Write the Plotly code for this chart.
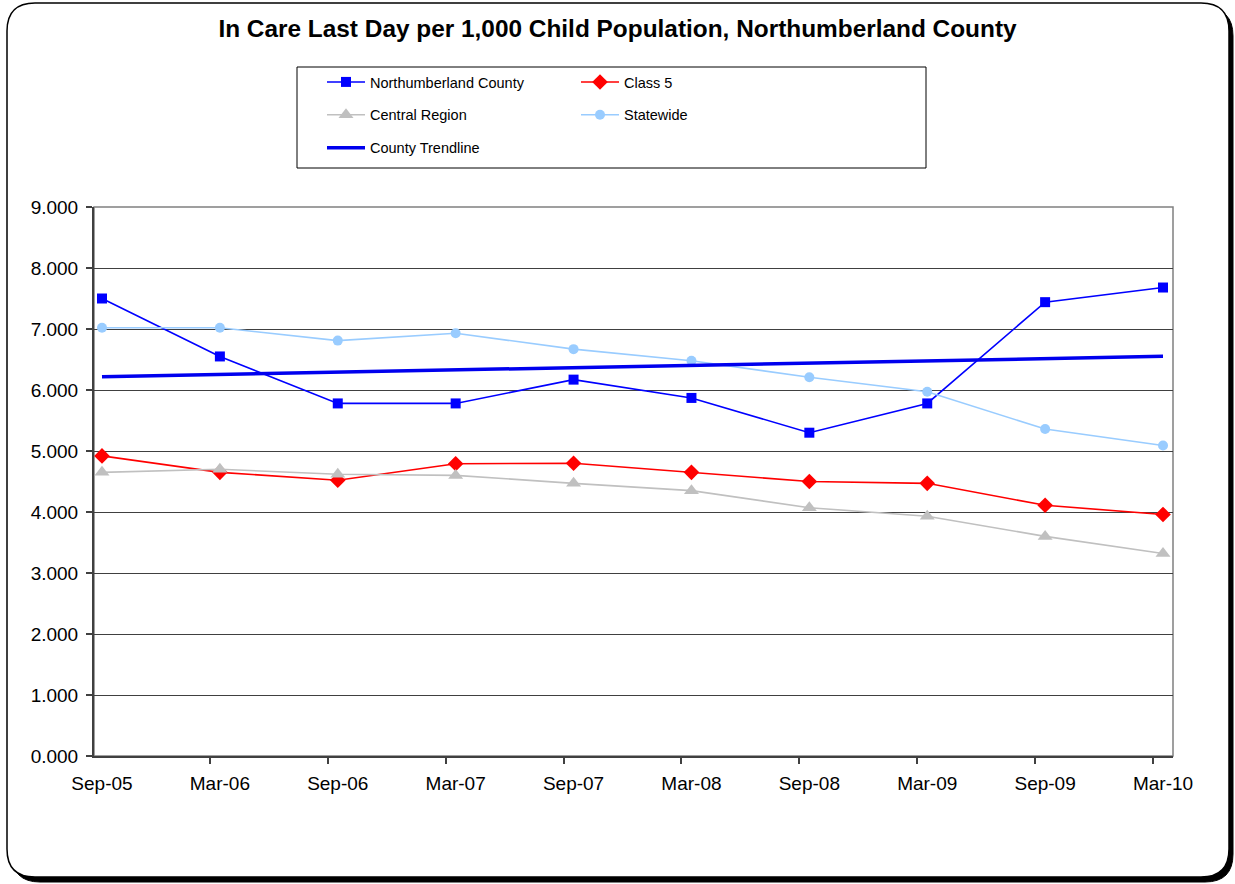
import numpy as np
import plotly.graph_objects as go

# ---------------- data ----------------
periods = ["Sep-05", "Mar-06", "Sep-06", "Mar-07", "Sep-07",
           "Mar-08", "Sep-08", "Mar-09", "Sep-09", "Mar-10"]
northumberland = [7.50, 6.55, 5.78, 5.78, 6.17, 5.87, 5.30, 5.78, 7.44, 7.68]
class5 = [4.92, 4.65, 4.52, 4.79, 4.80, 4.65, 4.50, 4.47, 4.11, 3.96]
central_region = [4.65, 4.70, 4.62, 4.60, 4.47, 4.35, 4.07, 3.93, 3.60, 3.32]
statewide = [7.02, 7.02, 6.81, 6.93, 6.67, 6.48, 6.21, 5.97, 5.36, 5.09]
y_ticks = [0, 1, 2, 3, 4, 5, 6, 7, 8, 9]

x_idx = list(range(len(periods)))
# linear trendline fitted to the county series (as Excel does)
coef = np.polyfit(x_idx, northumberland, 1)
trend = [float(np.polyval(coef, x_idx[0])), float(np.polyval(coef, x_idx[-1]))]
trend_x = [x_idx[0], x_idx[-1]]

FONT = "Liberation Sans, Arial, sans-serif"
W, H = 1235, 884
L, R, T, B = 94, 62, 207, 128
PW, PH = W - L - R, H - T - B


def px(x):
    return (x - L) / PW


def py(y):
    return (H - B - y) / PH


fig = go.Figure()

fig.add_trace(go.Scatter(
    x=x_idx, y=northumberland, name="Northumberland County", mode="lines+markers",
    line=dict(color="#0000FF", width=1.6),
    marker=dict(symbol="square", size=10, color="#0000FF"),
    legend="legend", legendgroup="g1"))
fig.add_trace(go.Scatter(
    x=x_idx, y=class5, name="Class 5", mode="lines+markers",
    line=dict(color="#FF0000", width=1.6),
    marker=dict(symbol="diamond", size=12, color="#FF0000"),
    legend="legend2", legendgroup="g2"))
fig.add_trace(go.Scatter(
    x=x_idx, y=central_region, name="Central Region", mode="lines+markers",
    line=dict(color="#C0C0C0", width=1.6),
    marker=dict(symbol="triangle-up", size=13, color="#C0C0C0"),
    legend="legend", legendgroup="g3"))
fig.add_trace(go.Scatter(
    x=x_idx, y=statewide, name="Statewide", mode="lines+markers",
    line=dict(color="#99CCFF", width=1.6),
    marker=dict(symbol="circle", size=10, color="#99CCFF"),
    legend="legend2", legendgroup="g4"))
fig.add_trace(go.Scatter(
    x=trend_x, y=trend, name="County Trendline", mode="lines",
    line=dict(color="#0000EE", width=3.5),
    legend="legend", legendgroup="g5"))

# ---------------- frame shapes ----------------
def rounded(x0, y0, x1, y1, r):
    # pixel coords -> paper path with rounded corners
    rx = r / PW
    ry = r / PH
    X0, X1 = px(x0), px(x1)
    Y0, Y1 = py(y0), py(y1)  # Y0 top (larger), Y1 bottom
    return (f"M {X0+rx},{Y0} L {X1-rx},{Y0} Q {X1},{Y0} {X1},{Y0-ry} "
            f"L {X1},{Y1+ry} Q {X1},{Y1} {X1-rx},{Y1} "
            f"L {X0+rx},{Y1} Q {X0},{Y1} {X0},{Y1+ry} "
            f"L {X0},{Y0-ry} Q {X0},{Y0} {X0+rx},{Y0} Z")


shapes = [
    dict(type="path", xref="paper", yref="paper", path=rounded(12, 8, 1233, 882, 28),
         fillcolor="black", line=dict(color="black", width=1), layer="below"),
    dict(type="path", xref="paper", yref="paper", path=rounded(7, 3, 1229, 877, 28),
         fillcolor="white", line=dict(color="black", width=1.5), layer="below"),
    # plot area border (top & right)
    dict(type="rect", xref="paper", yref="paper", x0=0, x1=1, y0=0, y1=1,
         line=dict(color="#808080", width=1.5), fillcolor="rgba(0,0,0,0)", layer="below"),
    # legend box
    dict(type="rect", xref="paper", yref="paper", x0=px(297), x1=px(926), y0=py(168), y1=py(67),
         line=dict(color="black", width=1), fillcolor="white", layer="below"),
]

tick_off = 10 / 118.0

fig.update_layout(
    width=W, height=H,
    margin=dict(l=L, r=R, t=T, b=B, pad=0),
    paper_bgcolor="white",
    plot_bgcolor="rgba(0,0,0,0)",
    font=dict(family=FONT, color="black"),
    title=dict(text="<b>In Care Last Day per 1,000 Child Population, Northumberland County</b>",
               x=0.5, xref="container", xanchor="center", y=1 - 28 / H, yanchor="middle",
               font=dict(size=24.4, family=FONT, color="black")),
    shapes=shapes,
    showlegend=True,
    legend=dict(x=px(322), y=py(66), xanchor="left", yanchor="top",
                orientation="v", bgcolor="rgba(0,0,0,0)", borderwidth=0,
                font=dict(size=14.5, family=FONT), tracegroupgap=11,
                traceorder="grouped", itemwidth=38),
    legend2=dict(x=px(576), y=py(66), xanchor="left", yanchor="top",
                 orientation="v", bgcolor="rgba(0,0,0,0)", borderwidth=0,
                 font=dict(size=14.5, family=FONT), tracegroupgap=11,
                 traceorder="grouped", itemwidth=38),
    xaxis=dict(range=[-8 / 118.0, 9 + 10 / 118.0], tickmode="array",
               tickvals=[i - tick_off for i in x_idx], showticklabels=False,
               ticks="outside", ticklen=6, tickwidth=1.5, tickcolor="#404040",
               showgrid=False, zeroline=False, showline=True,
               linecolor="#404040", linewidth=2, fixedrange=True),
    xaxis2=dict(range=[-8 / 118.0, 9 + 10 / 118.0], overlaying="x", side="bottom",
                anchor="y", tickmode="array", tickvals=x_idx, ticktext=periods,
                ticks="", showgrid=False, zeroline=False, showline=False,
                ticklabelstandoff=14,
                tickfont=dict(size=19, family=FONT, color="black")),
    yaxis=dict(range=[0, 9], tickmode="array", tickvals=y_ticks,
               ticktext=[f"{v:.3f}" for v in y_ticks],
               ticks="outside", ticklen=6, tickwidth=1.5, tickcolor="#404040",
               ticklabelstandoff=4,
               showgrid=True, gridcolor="#404040", gridwidth=1,
               zeroline=False, showline=True, linecolor="#404040", linewidth=2,
               tickfont=dict(size=19, family=FONT, color="black")),
)

# a dummy invisible trace to activate xaxis2 tick labels
fig.add_trace(go.Scatter(x=[x_idx[0]], y=[None], xaxis="x2", showlegend=False,
                         hoverinfo="skip", mode="markers"))

fig.write_html("out.html")
